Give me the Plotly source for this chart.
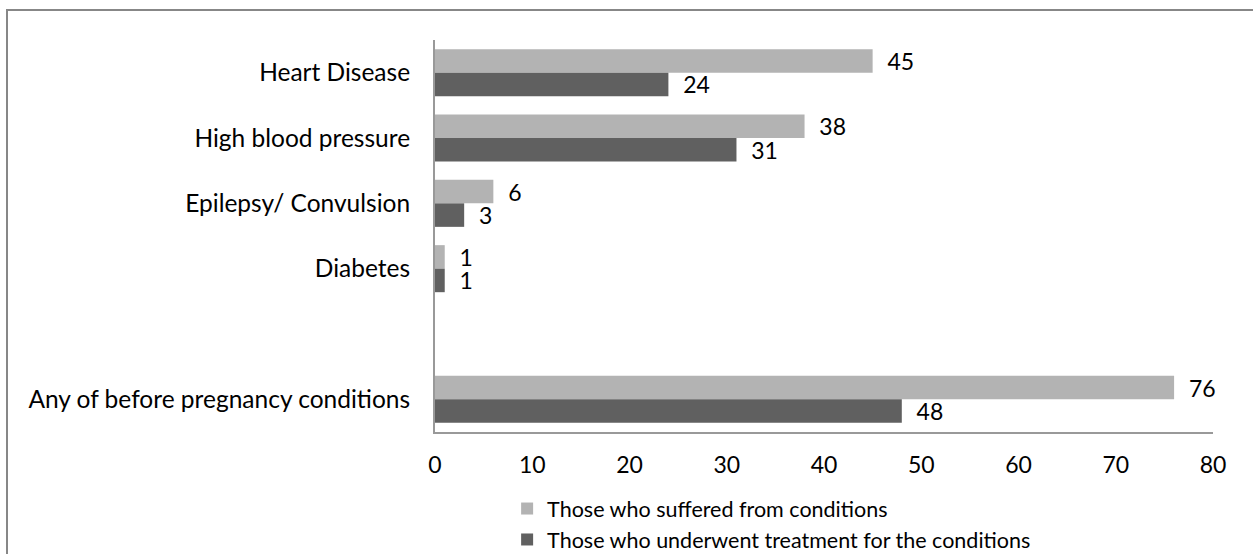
import plotly.graph_objects as go

# Conditions (top to bottom); the blank entry leaves a gap before the total row
conditions = ["Heart Disease", "High blood pressure", "Epilepsy/ Convulsion",
              "Diabetes", " ", "Any of before pregnancy conditions"]
suffered_conditions = ["Heart Disease", "High blood pressure", "Epilepsy/ Convulsion",
                       "Diabetes", "Any of before pregnancy conditions"]
suffered = [45, 38, 6, 1, 76]
treated = [24, 31, 3, 1, 48]
x_ticks = [0, 10, 20, 30, 40, 50, 60, 70, 80]

W, H = 1253, 554
ML, MR, MT, MB = 435, 40, 40, 122
FONT = "Lato"
LIGHT = "#b3b3b3"
DARK = "#606060"

fig = go.Figure()
fig.add_trace(go.Bar(
    name="Those who suffered from conditions",
    y=suffered_conditions, x=suffered, orientation="h",
    marker=dict(color=LIGHT, line=dict(width=0)),
    text=suffered, texttemplate="  %{x}", textposition="outside",
    textfont=dict(family=FONT, size=23, color="#000000"),
    constraintext="none", cliponaxis=False,
))
fig.add_trace(go.Bar(
    name="Those who underwent treatment for the conditions",
    y=suffered_conditions, x=treated, orientation="h",
    marker=dict(color=DARK, line=dict(width=0)),
    text=treated, texttemplate="  %{x}", textposition="outside",
    textfont=dict(family=FONT, size=23, color="#000000"),
    constraintext="none", cliponaxis=False,
))

# outer frame around the whole chart
pw = W - ML - MR
ph = H - MT - MB
fig.add_shape(type="rect", xref="paper", yref="paper",
              x0=(7 - ML) / pw, x1=(W + 5 - ML) / pw,
              y0=-(H + 5 - MT - ph) / ph, y1=(H - 10 - MB) / ph,
              line=dict(color="#878787", width=2), fillcolor="rgba(0,0,0,0)")

fig.update_layout(
    width=W, height=H,
    margin=dict(l=ML, r=MR, t=MT, b=MB, autoexpand=False),
    paper_bgcolor="white", plot_bgcolor="white",
    barmode="group", bargap=0.28, bargroupgap=0,
    font=dict(family=FONT, size=23, color="#000000"),
    showlegend=True,
    legend=dict(orientation="v", x=0.0927, xanchor="left", y=-0.143, yanchor="top",
                font=dict(family=FONT, size=21.5, color="#000000"),
                tracegroupgap=0, itemwidth=30, bgcolor="rgba(0,0,0,0)"),
    xaxis=dict(range=[0, 80], tickvals=x_ticks, showgrid=False, zeroline=False,
               showline=True, linecolor="#999999", linewidth=2,
               ticks="", ticklabelstandoff=11,
               tickfont=dict(family=FONT, size=23, color="#000000")),
    yaxis=dict(type="category", categoryarray=conditions, autorange="reversed",
               showgrid=False, zeroline=False, showline=True,
               linecolor="#999999", linewidth=2, ticks="", ticklabelstandoff=18,
               tickfont=dict(family=FONT, size=24.5, color="#000000")),
)

fig.write_html("out.html")
